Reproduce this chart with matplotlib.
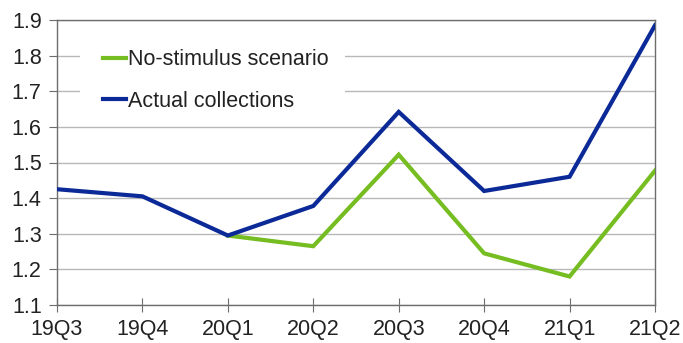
import matplotlib
matplotlib.use("Agg")
import matplotlib.pyplot as plt
from matplotlib.patches import Rectangle

quarters = ["19Q3", "19Q4", "20Q1", "20Q2", "20Q3", "20Q4", "21Q1", "21Q2"]
actual = [1.425, 1.405, 1.295, 1.378, 1.642, 1.420, 1.460, 1.885]
no_stimulus_quarters = ["20Q1", "20Q2", "20Q3", "20Q4", "21Q1", "21Q2"]
no_stimulus = [1.295, 1.265, 1.522, 1.245, 1.180, 1.477]
yticks = [1.1, 1.2, 1.3, 1.4, 1.5, 1.6, 1.7, 1.8, 1.9]

plt.rcParams["font.family"] = ["Liberation Sans", "DejaVu Sans"]

fig = plt.figure(figsize=(6.83, 3.43), dpi=100)
ax = fig.add_axes([57 / 683, 38 / 343, 598 / 683, 285 / 343])

x_all = list(range(len(quarters)))
x_ns = [quarters.index(q) for q in no_stimulus_quarters]

green = "#76bd22"
blue = "#0b2a98"

ax.plot(x_ns, no_stimulus, color=green, lw=3.0, solid_joinstyle="miter",
        label="No-stimulus scenario", zorder=3)
ax.plot(x_all, actual, color=blue, lw=3.0, solid_joinstyle="miter",
        label="Actual collections", zorder=4)

ax.set_xlim(0, len(quarters) - 1)
ax.set_ylim(1.1, 1.9)
ax.set_xticks(x_all)
ax.set_xticklabels(quarters)
ax.set_yticks(yticks)
ax.set_yticklabels([f"{v:.1f}" for v in yticks])

ax.grid(axis="y", color="#b8b8b8", lw=1.0, zorder=0)
ax.set_axisbelow(True)
for s in ax.spines.values():
    s.set_color("#6d6d6d")
    s.set_linewidth(1.0)

ax.tick_params(axis="y", direction="out", length=6, color="#6d6d6d",
               labelsize=15.5, pad=5, labelcolor="#222222")
ax.tick_params(axis="x", direction="inout", length=10, color="#6d6d6d",
               labelsize=15.5, pad=5, labelcolor="#222222")

# white panel behind the legend that hides the gridlines there
ax.add_patch(Rectangle((0.038, 0.667), 0.444, 0.263, transform=ax.transAxes,
                       facecolor="white", edgecolor="none", zorder=1))

leg = ax.legend(loc="upper left", bbox_to_anchor=(0.077, 0.898), frameon=False,
                fontsize=15.5, handlelength=1.07, handletextpad=0.1,
                labelspacing=0.95, borderpad=0.0, borderaxespad=0.0)
for t in leg.get_texts():
    t.set_color("#222222")

fig.savefig("out.png", dpi=100)
